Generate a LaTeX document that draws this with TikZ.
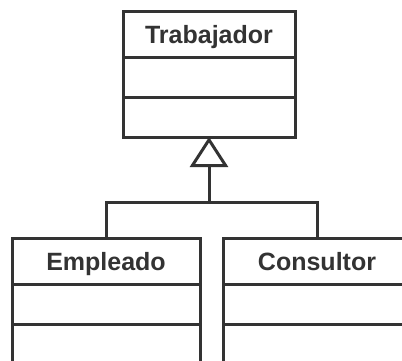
\documentclass[tikz,border=0pt]{standalone}
\usepackage{fontspec}
\setmainfont{Liberation Sans}
\usetikzlibrary{positioning, arrows.meta}
\definecolor{umlgray}{HTML}{333333}

\begin{document}
\begin{tikzpicture}[x=1pt, y=-1pt,
    classname/.style={draw=umlgray, line width=3pt, fill=white, text=umlgray,
      font=\fontsize{25}{30}\selectfont\bfseries, text height=18pt, text depth=0pt,
      inner sep=0pt, outer sep=0pt},
    compart/.style={draw=umlgray, line width=3pt, inner sep=0pt, outer sep=0pt},
    link/.style={draw=umlgray, line width=3pt}]
  \useasboundingbox (0, 0) rectangle (402, 361);
  \clip (0, 0) rectangle (402, 361);

  \node[classname, minimum width=172pt, minimum height=46pt] (trab) at (209, 35) {Trabajador};
  \node[compart, minimum width=172pt, minimum height=40pt, below=0pt of trab] (trab2) {};
  \node[compart, minimum width=172pt, minimum height=39pt, below=0pt of trab2] (trab3) {};

  \node[classname, minimum width=188pt, minimum height=46pt] (emp) at (106, 261) {Empleado};
  \node[compart, minimum width=188pt, minimum height=40pt, below=0pt of emp] (emp2) {};
  \node[compart, minimum width=188pt, minimum height=40pt, below=0pt of emp2] (emp3) {};

  \node[classname, minimum width=188pt, minimum height=46pt] (cons) at (317, 261) {Consultor};
  \node[compart, minimum width=188pt, minimum height=40pt, below=0pt of cons] (cons2) {};
  \node[compart, minimum width=188pt, minimum height=40pt, below=0pt of cons2] (cons3) {};

  \coordinate (fork) at (209, 202);
  \draw[link] (emp.north) |- (fork) -| (cons.north);
  \draw[link, -{Triangle[open, length=30pt, width=38pt]}] (fork) -- (trab3.south);
\end{tikzpicture}
\end{document}
